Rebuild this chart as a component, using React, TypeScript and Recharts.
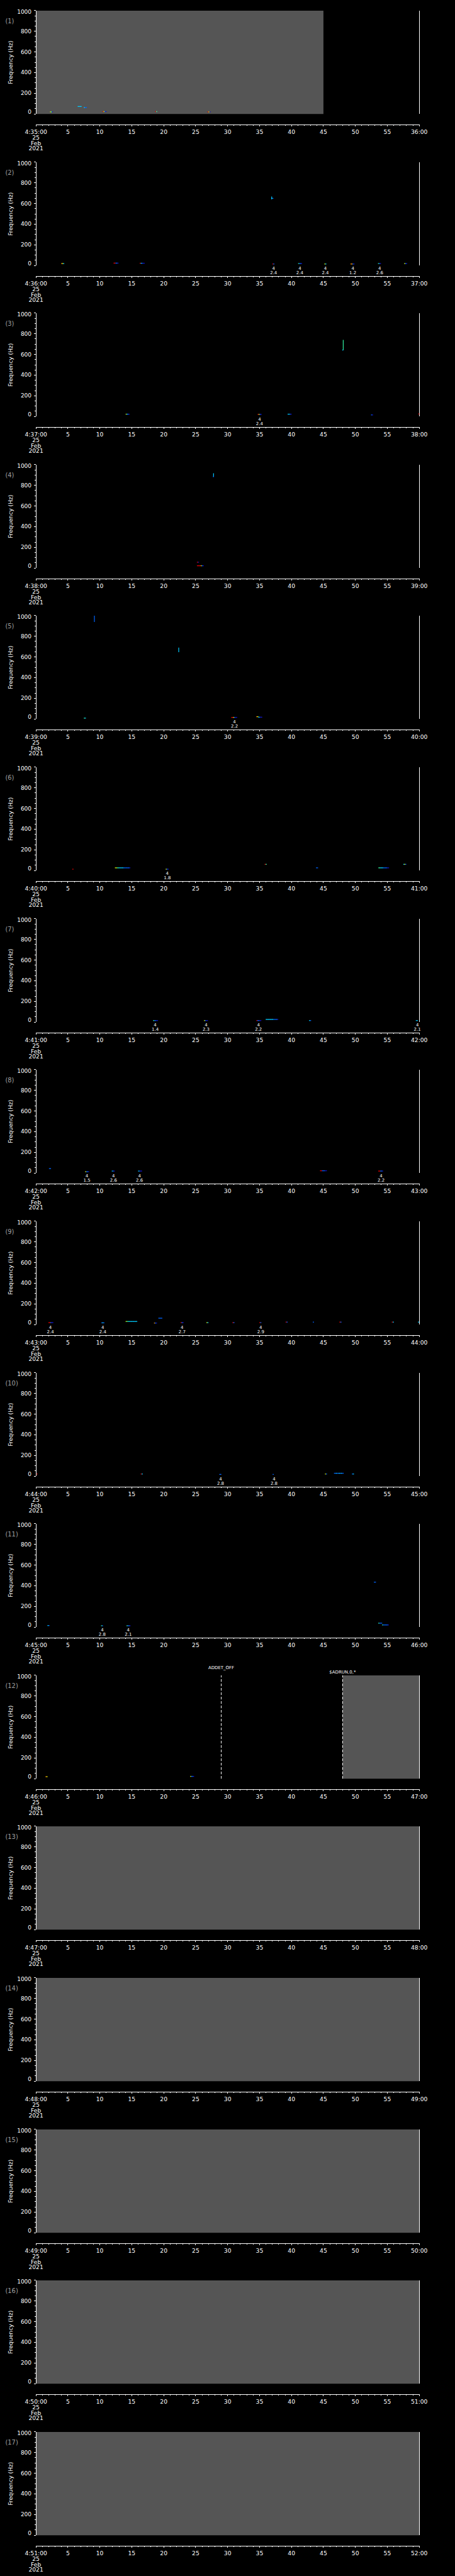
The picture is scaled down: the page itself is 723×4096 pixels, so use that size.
import { ComposedChart, Line, ReferenceArea, ReferenceLine, Scatter, XAxis, YAxis } from 'recharts'

// everything is laid out in reference pixels and scaled down by S
const S = 0.705
const W = 723
const PANEL_H = 341.3 * S
const PLOT_LEFT = 81 * S
const PLOT_RIGHT = 945 * S
const PLOT_TOP = 24 * S
const PLOT_BOTTOM = 257 * S
const PLOT_W = PLOT_RIGHT - PLOT_LEFT
const PX_PER_SEC = PLOT_W / 60
const AXIS_GAP = 24 * S
const FONT = '"DejaVu Sans", Verdana, sans-serif'
const GREY = '#555555'

const BIN_SEC = 0.15 // width of one spectrogram column
const BIN_H = 1.3

const PANEL_STARTS = [
  '4:35:00', '4:36:00', '4:37:00', '4:38:00', '4:39:00', '4:40:00', '4:41:00', '4:42:00', '4:43:00',
  '4:44:00', '4:45:00', '4:46:00', '4:47:00', '4:48:00', '4:49:00', '4:50:00', '4:51:00',
]
const PANEL_ENDS = [
  '36:00', '37:00', '38:00', '39:00', '40:00', '41:00', '42:00', '43:00', '44:00',
  '45:00', '46:00', '47:00', '48:00', '49:00', '50:00', '51:00', '52:00',
]
const DATE_LINES = ['25', 'Feb', '2021']

const X_TICKS = Array.from({ length: 61 }, (_, i) => i)
const Y_TICKS = Array.from({ length: 21 }, (_, i) => i * 50)

// intensity level -> colour (rainbow table)
const LEVEL_COLORS = ['#000000', '#1414c8', '#0064ff', '#00ccff', '#30f0a0', '#d8f000', '#ff9800', '#e80000']

type Blob = [number, number, string] // start s, freq Hz, intensity per column
type Streak = [number, number, number, number] // s, f from, f to, level
type Event = [number, string, string]
type Gap = [number, number]
type Marker = [number, string, number]

const BLOBS_1: Blob[] = [[2.2, 20, '541'], [6.53, 72, '3333'], [7.5, 62, '322'], [10.42, 23, '7521'], [18.66, 23, '74'], [26.85, 20, '751']]
const BLOBS_2: Blob[] = [[3.96, 19, '653'], [12.15, 23, '77221'], [16.25, 22, '73211'], [36.85, 650, '32'], [37.0, 15, '72'], [41.04, 19, '4221'], [45.14, 15, '53'], [49.24, 15, '6621'], [53.54, 19, '421'], [57.64, 19, '521']]
const BLOBS_3: Blob[] = [[14.04, 22, '5321'], [34.7, 20, '7521'], [39.4, 22, '3321'], [47.95, 643, '3'], [52.45, 15, '21'], [59.85, 24, '7']]
const BLOBS_4: Blob[] = [[25.2, 56, '71'], [25.2, 22, '7777521'], [27.7, 884, '2']]
const BLOBS_5: Blob[] = [[7.5, 8, '43'], [30.57, 15, '775211'], [34.5, 22, '65'], [34.8, 17, '3211']]
const BLOBS_6: Blob[] = [[5.7, 13, '7'], [12.36, 26, '5544333332222221'], [20.3, 13, '521'], [35.8, 60, '74'], [43.84, 26, '22'], [53.6, 26, '44333222211'], [57.5, 60, '352']]
const BLOBS_7: Blob[] = [[18.34, 15, '42211'], [26.3, 15, '5211'], [34.5, 15, '72211'], [35.96, 26, '3333333322221'], [42.75, 15, '32'], [59.46, 15, '33']]
const BLOBS_8: Blob[] = [[2.04, 43, '22'], [7.7, 13, '5221'], [11.87, 19, '321'], [15.99, 19, '3211'], [44.47, 22, '7722211'], [53.58, 19, '77221']]
const BLOBS_9: Blob[] = [[1.95, 19, '77211'], [10.24, 17, '232'], [14.04, 30, '544333333333'], [18.48, 15, '621'], [19.16, 62, '2222'], [22.64, 19, '721'], [26.68, 19, '53'], [30.75, 19, '72'], [34.96, 19, '72'], [39.08, 24, '72'], [43.34, 24, '2'], [47.5, 24, '72'], [55.7, 24, '73'], [59.8, 24, '3']]
const BLOBS_10: Blob[] = [[0.1, 21, '7'], [16.4, 21, '73'], [28.7, 17, '22'], [37.05, 17, '2'], [45.24, 21, '52'], [46.65, 28, '2232232322'], [49.46, 21, '23']]
const BLOBS_11: Blob[] = [[1.8, 15, '32'], [10.19, 13, '42'], [14.18, 13, '4221'], [52.9, 435, '22'], [53.58, 38, '4222'], [54.17, 21, '4222221']]
const BLOBS_12: Blob[] = [[1.5, 19, '65'], [24.14, 22, '5221']]

const STREAKS_2: Streak[] = [[36.9, 640, 668, 3]]
const STREAKS_3: Streak[] = [[48.1, 643, 741, 4]]
const STREAKS_4: Streak[] = [[27.8, 884, 918, 3]]
const STREAKS_5: Streak[] = [[9.15, 938, 1000, 2], [22.35, 647, 690, 3]]

const EVENTS_2: Event[] = [[37.2, '4', '2.4'], [41.3, '4', '2.4'], [45.3, '4', '2.4'], [49.6, '4', '1.2'], [53.8, '4', '2.6']]
const EVENTS_3: Event[] = [[35.0, '4', '2.4']]
const EVENTS_5: Event[] = [[31.07, '4', '2.2']]
const EVENTS_6: Event[] = [[20.56, '4', '1.8']]
const EVENTS_7: Event[] = [[18.66, '4', '1.4'], [26.63, '4', '2.3'], [34.83, '4', '2.2'], [59.7, '4', '2.1']]
const EVENTS_8: Event[] = [[7.97, '4', '1.5'], [12.14, '4', '2.6'], [16.21, '4', '2.6'], [54.03, '4', '2.2']]
const EVENTS_9: Event[] = [[2.26, '4', '2.4'], [10.46, '4', '2.4'], [22.87, '4', '2.7'], [35.19, '4', '2.9']]
const EVENTS_10: Event[] = [[28.9, '4', '2.8'], [37.27, '4', '2.8']]
const EVENTS_11: Event[] = [[10.37, '4', '2.8'], [14.45, '4', '2.1']]

const GAPS_1: Gap[] = [[0, 45]]
const GAPS_12: Gap[] = [[48, 60]]
const GAPS_FULL: Gap[] = [[0, 60]]

const MARKERS_12: Marker[] = [[29.0, 'ADDET_OFF', 2], [48.0, '$ADRUN,0,*', 1]]

const BLOBS = [BLOBS_1, BLOBS_2, BLOBS_3, BLOBS_4, BLOBS_5, BLOBS_6, BLOBS_7, BLOBS_8, BLOBS_9, BLOBS_10, BLOBS_11, BLOBS_12, [], [], [], [], []]
const STREAKS = [[], STREAKS_2, STREAKS_3, STREAKS_4, STREAKS_5, [], [], [], [], [], [], [], [], [], [], [], []]
const EVENTS = [[], EVENTS_2, EVENTS_3, [], EVENTS_5, EVENTS_6, EVENTS_7, EVENTS_8, EVENTS_9, EVENTS_10, EVENTS_11, [], [], [], [], [], []]
const GAPS = [GAPS_1, [], [], [], [], [], [], [], [], [], [], GAPS_12, GAPS_FULL, GAPS_FULL, GAPS_FULL, GAPS_FULL, GAPS_FULL]
const MARKERS = [[], [], [], [], [], [], [], [], [], [], [], MARKERS_12, [], [], [], [], []] as Marker[][]

function expandBlobs(blobs: Blob[]) {
  return blobs.flatMap(([t, f, levels]) =>
    levels.split('').map((lv, i) => ({ t: t + i * BIN_SEC, f, level: Number(lv) })),
  )
}

function BinShape(props: any) {
  const { cx, cy, payload } = props
  if (payload.level === 0) return <g />
  return (
    <rect
      x={cx}
      y={cy - BIN_H / 2}
      width={BIN_SEC * PX_PER_SEC + 0.2}
      height={BIN_H}
      fill={LEVEL_COLORS[payload.level]}
    />
  )
}

function EventShape(props: any) {
  const { cx, cy, payload } = props
  return (
    <g fontFamily={FONT} fontSize={7} fill="#fff" textAnchor="middle">
      <text x={cx} y={cy + 9.4 * S}>{payload.a}</text>
      <text x={cx} y={cy + 19 * S}>{payload.b}</text>
    </g>
  )
}

function MarkerLabel(props: any) {
  const { viewBox, text, tier } = props
  const lift = tier === 2 ? 13.9 * S : 4.8 * S
  return (
    <text x={viewBox.x} y={viewBox.y - lift} textAnchor="middle" fontFamily={FONT} fontSize={7} fill="#fff">
      {text}
    </text>
  )
}

function TimeTick(props: any) {
  const { x, payload, index, panel } = props
  const v = payload.value as number
  const axisY = PLOT_BOTTOM + AXIS_GAP
  const major = v % 5 === 0
  let label = ''
  if (v === 0) label = PANEL_STARTS[panel]
  else if (v === 60) label = PANEL_ENDS[panel]
  else if (major) label = String(v)
  return (
    <g>
      {index === 0 && (
        <line x1={x} x2={x + PLOT_W} y1={axisY} y2={axisY} stroke="#fff" strokeWidth={1} shapeRendering="crispEdges" />
      )}
      <line
        x1={x}
        x2={x}
        y1={axisY}
        y2={axisY + (major ? 4.3 * S : 2.7 * S)}
        stroke="#fff"
        strokeWidth={1}
        shapeRendering="crispEdges"
      />
      {label && (
        <text x={x} y={axisY + 21.7 * S} textAnchor="middle" fontFamily={FONT} fontSize={9.2} fill="#fff">
          {label}
        </text>
      )}
      {v === 0 &&
        DATE_LINES.map((d, i) => (
          <text key={d} x={x} y={axisY + (34.3 + i * 12) * S} textAnchor="middle" fontFamily={FONT} fontSize={9.2} fill="#fff">
            {d}
          </text>
        ))}
    </g>
  )
}

function LeftTick(props: any) {
  const { y, payload } = props
  const x = PLOT_LEFT
  const v = payload.value as number
  const major = v % 200 === 0
  const shift = v === 1000 ? 3.3 * S : v === 0 ? -4.7 * S : 0
  return (
    <g>
      <line
        x1={x}
        x2={x - (major ? 4.7 * S : 2.3 * S)}
        y1={y}
        y2={y}
        stroke="#fff"
        strokeWidth={1}
        shapeRendering="crispEdges"
      />
      {major && (
        <text x={x - 10 * S} y={y + shift} textAnchor="end" dominantBaseline="central" fontFamily={FONT} fontSize={9} fill="#fff">
          {v}
        </text>
      )}
    </g>
  )
}

function RightTick(props: any) {
  const { y, payload } = props
  const x = PLOT_RIGHT
  const major = (payload.value as number) % 200 === 0
  return (
    <line
      x1={x}
      x2={x + (major ? 4 * S : 2.3 * S)}
      y1={y}
      y2={y}
      stroke="#fff"
      strokeWidth={1}
      shapeRendering="crispEdges"
    />
  )
}

function Panel({ index }: { index: number }) {
  const bins = expandBlobs(BLOBS[index] as Blob[])
  const events = (EVENTS[index] as Event[]).map(([t, a, b]) => ({ t, f: 0, a, b }))
  // an invisible anchor column keeps empty panels rendering their axes
  const points = bins.length ? bins : [{ t: 0, f: 0, level: 0 }]
  return (
    <div style={{ position: 'absolute', left: 0, top: index * PANEL_H, width: W, height: PANEL_H }}>
      <ComposedChart
        width={W}
        height={PANEL_H}
        margin={{ top: PLOT_TOP, right: 0, bottom: 0, left: 0 }}
      >
        <XAxis
          dataKey="t"
          type="number"
          domain={[0, 60]}
          ticks={X_TICKS}
          interval={0}
          height={PANEL_H - PLOT_BOTTOM}
          axisLine={false}
          tickLine={false}
          tickSize={0}
          tickMargin={0}
          tick={(p: any) => <TimeTick {...p} panel={index} />}
        />
        <YAxis
          yAxisId="left"
          type="number"
          domain={[0, 1000]}
          ticks={Y_TICKS}
          interval={0}
          width={PLOT_LEFT}
          tickSize={0}
          tickMargin={0}
          tickLine={false}
          axisLine={{ stroke: '#fff', strokeWidth: 1, shapeRendering: 'crispEdges' }}
          tick={LeftTick}
        />
        <YAxis
          yAxisId="right"
          orientation="right"
          type="number"
          domain={[0, 1000]}
          ticks={Y_TICKS}
          interval={0}
          width={W - PLOT_RIGHT}
          tickSize={0}
          tickMargin={0}
          tickLine={false}
          axisLine={{ stroke: '#fff', strokeWidth: 1, shapeRendering: 'crispEdges' }}
          tick={RightTick}
        />
        {(GAPS[index] as Gap[]).map(([a, b]) => (
          <ReferenceArea
            key={`gap-${a}`}
            yAxisId="left"
            x1={a}
            x2={b}
            y1={0}
            y2={1000}
            fill={GREY}
            fillOpacity={1}
            stroke="none"
          />
        ))}
        {(STREAKS[index] as Streak[]).map(([t, f0, f1, lv]) => (
          <Line
            key={`streak-${t}`}
            yAxisId="left"
            data={[{ t, f: f0 }, { t, f: f1 }]}
            dataKey="f"
            stroke={LEVEL_COLORS[lv]}
            strokeWidth={1.2}
            dot={false}
            activeDot={false}
            isAnimationActive={false}
          />
        ))}
        <Scatter yAxisId="left" data={points} dataKey="f" shape={BinShape} isAnimationActive={false} />
        <Scatter yAxisId="left" data={events} dataKey="f" shape={EventShape} isAnimationActive={false} />
        {MARKERS[index].map(([t, text, tier]) => (
          <ReferenceLine
            key={`mk-${t}`}
            yAxisId="left"
            x={t}
            stroke="#fff"
            strokeWidth={1}
            strokeDasharray="4.2 2.8"
            label={<MarkerLabel text={text} tier={tier} />}
          />
        ))}
      </ComposedChart>
      <svg
        width={PLOT_LEFT - 8}
        height={PANEL_H}
        style={{ position: 'absolute', left: 0, top: 0, pointerEvents: 'none' }}
      >
        <text x={12 * S} y={52.3 * S} fontFamily={FONT} fontSize={9.9} fill="#a0a0a0">
          ({index + 1})
        </text>
        <text
          x={23.3 * S}
          y={140.7 * S}
          transform={`rotate(-90 ${23.3 * S} ${140.7 * S})`}
          textAnchor="middle"
          dominantBaseline="central"
          fontFamily={FONT}
          fontSize={9.2}
          fill="#fff"
        >
          Frequency (Hz)
        </text>
      </svg>
    </div>
  )
}

export default function App() {
  return (
    <div style={{ position: 'absolute', left: 0, top: 0, width: W, height: 4096, background: '#000', overflow: 'hidden' }}>
      {PANEL_STARTS.map((start, i) => (
        <Panel key={start} index={i} />
      ))}
    </div>
  )
}
